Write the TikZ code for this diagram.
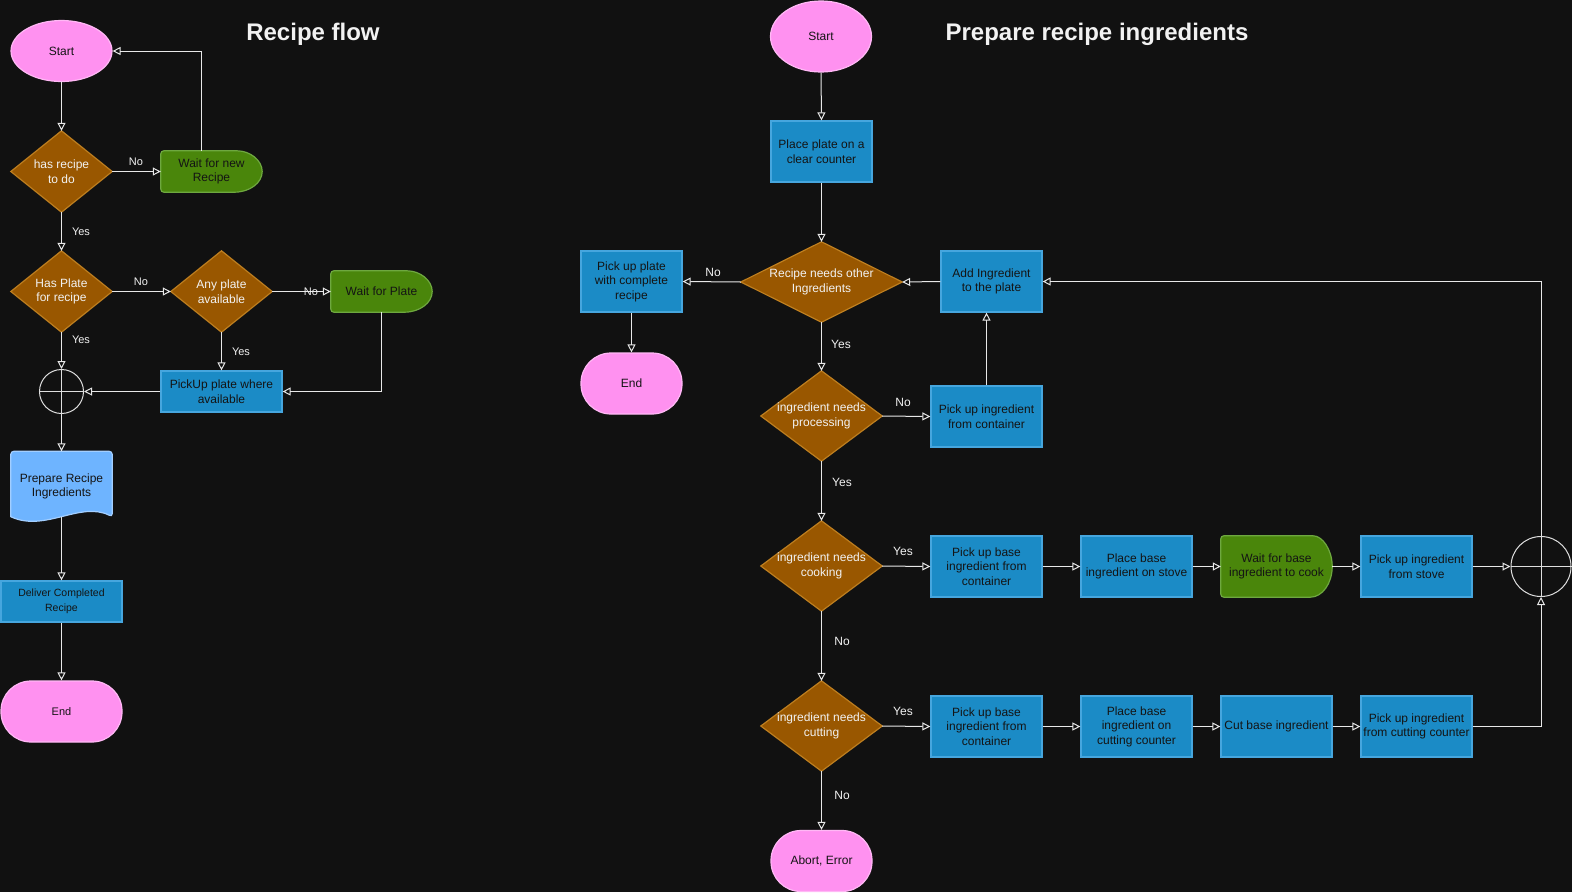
\documentclass[tikz,border=0pt]{standalone}
\usepackage{fontspec}
\setmainfont{Liberation Sans}
\usetikzlibrary{arrows.meta,shapes.geometric,calc}
\pgfdeclarelayer{back}
\pgfsetlayers{back,main}
\definecolor{bg}{HTML}{111111}
\definecolor{ln}{HTML}{E8E8E8}
\definecolor{txtlight}{HTML}{F2F2F2}
\definecolor{txtdark}{HTML}{141414}
\definecolor{procfill}{HTML}{1B8BC6}
\definecolor{procdraw}{HTML}{46A6DE}
\definecolor{decfill}{HTML}{995700}
\definecolor{decdraw}{HTML}{BD7E1F}
\definecolor{grfill}{HTML}{4A860B}
\definecolor{grdraw}{HTML}{6EA83F}
\definecolor{pkfill}{HTML}{FF91F0}
\definecolor{pkdraw}{HTML}{FFB8F5}
\definecolor{docfill}{HTML}{6EB4FF}
\definecolor{docdraw}{HTML}{A2CEFF}
\begin{document}
\begin{tikzpicture}[x=1pt,y=-1pt,
  base/.style={inner sep=0pt, align=center, font=\fontsize{12}{14.5}\selectfont},
  proc/.style={base, draw=procdraw, fill=procfill, line width=1.2pt, text=txtdark, minimum width=111pt, minimum height=61pt},
  decn/.style={base, text=txtlight, minimum width=121pt, minimum height=90pt},
  decshape/.style={draw=decdraw, fill=decfill, line width=1.2pt},
  grn/.style={base, text=txtdark, minimum width=101pt, minimum height=41pt},
  grnshape/.style={draw=grdraw, fill=grfill, line width=1.2pt},
  ell/.style={base, ellipse, draw=pkdraw, fill=pkfill, line width=1.2pt, text=txtdark, minimum width=101pt, minimum height=61pt},
  stad/.style={base, rectangle, rounded corners=30pt, draw=pkdraw, fill=pkfill, line width=1.2pt, text=txtdark, minimum width=101pt, minimum height=61pt},
  junc/.style={circle, draw=ln!90!gray, line width=1pt, inner sep=0pt},
  con/.style={draw=ln, line width=1pt, -{Triangle[open,length=8pt,width=8pt]}},
  lbl/.style={inner sep=0pt, text=txtlight, font=\fontsize{12}{14}\selectfont},
  lbls/.style={inner sep=0pt, text=txtlight, font=\fontsize{11}{13}\selectfont},
  title/.style={inner sep=0pt, text=txtlight, font=\bfseries\fontsize{24}{28}\selectfont}
]
\begin{pgfonlayer}{back}
\fill[bg] (0,0) rectangle (1572,892);
\end{pgfonlayer}
\useasboundingbox (0,0) rectangle (1572,892);

% ---------------- Left: Recipe flow ----------------
\node[title] (t1) at (313,34) {Recipe flow};
\node[ell] (s1) at (61.5,51) {Start};
\node[decn, minimum width=101pt, minimum height=81pt] (d1) at (61.5,171.5) {has recipe\\to do};
\node[grn] (w1) at (211.5,171.5) {Wait for new\\Recipe};
\node[decn, minimum width=101pt, minimum height=81pt] (d2) at (61.5,291.5) {Has Plate\\for recipe};
\node[decn, minimum width=101pt, minimum height=81pt] (d3) at (221.5,291.5) {Any plate\\available};
\node[grn] (w2) at (381.5,291.5) {Wait for Plate};
\node[proc, minimum width=121pt, minimum height=41pt] (p1) at (221.5,391.5) {PickUp plate where\\available};
\node[junc, minimum size=44pt] (j1) at (61.5,391.5) {};
\node[base, text=txtdark, minimum width=101pt, minimum height=65pt] (doc) at (61.5,484) {};
\node[base, text=txtdark] (doct) at (61.5,486.5) {Prepare Recipe\\Ingredients};
\node[proc, minimum width=121pt, minimum height=41pt, font=\fontsize{10.5}{14.5}\selectfont] (dl) at (61.5,601.5) {Deliver Completed\\Recipe};
\node[stad, minimum width=121pt, font=\fontsize{11}{13}\selectfont] (e1) at (61.5,711.5) {End};

% ---------------- Right: Prepare recipe ingredients ----------------
\node[title] (t2) at (1097,34) {Prepare recipe ingredients};
\node[ell, minimum height=71pt] (s2) at (821,36.5) {Start};
\node[proc, minimum width=101pt] (pp) at (821.5,151.5) {Place plate on a\\clear counter};
\node[decn, minimum width=161pt, minimum height=80pt] (r1) at (821.5,282) {Recipe needs other\\Ingredients};
\node[proc, minimum width=101pt] (ai) at (991.5,281.5) {Add Ingredient\\to the plate};
\node[proc, minimum width=101pt] (pc) at (631.5,281.5) {Pick up plate\\with complete\\recipe};
\node[stad] (e2) at (631.5,383.5) {End};
\node[decn] (r2) at (821.5,416) {ingredient needs\\processing};
\node[proc] (pi) at (986.5,416.5) {Pick up ingredient\\from container};
\node[decn] (r3) at (821.5,566) {ingredient needs\\cooking};
\node[proc] (a1) at (986.5,566.5) {Pick up base\\ingredient from\\container};
\node[proc] (a2) at (1136.5,566.5) {Place base\\ingredient on stove};
\node[grn, minimum width=111pt, minimum height=61pt] (w3) at (1276.5,566.5) {Wait for base\\ingredient to cook};
\node[proc] (a4) at (1416.5,566.5) {Pick up ingredient\\from stove};
\node[junc, minimum size=60pt] (j2) at (1541,566.5) {};
\node[decn] (r4) at (821.5,726) {ingredient needs\\cutting};
\node[proc] (b1) at (986.5,726.5) {Pick up base\\ingredient from\\container};
\node[proc] (b2) at (1136.5,726.5) {Place base\\ingredient on\\cutting counter};
\node[proc] (b3) at (1276.5,726.5) {Cut base ingredient};
\node[proc] (b4) at (1416.5,726.5) {Pick up ingredient\\from cutting counter};
\node[stad] (ab) at (821.5,861) {Abort, Error};

% ---------------- custom shapes (behind text) ----------------
\begin{pgfonlayer}{back}
\foreach \n in {d1,d2,d3,r1,r2,r3,r4}{
  \draw[decshape] (\n.north) -- (\n.east) -- (\n.south) -- (\n.west) -- cycle;
}
\foreach \n/\r in {w1/28,w2/28,w3/22}{
  \coordinate (\n-t) at ($(\n.north east)+(-\r,0)$);
  \coordinate (\n-b) at ($(\n.south east)+(-\r,0)$);
  \draw[grnshape, rounded corners=3pt] (\n-b) -- (\n.south west) -- (\n.north west) -- (\n-t) [sharp corners]
    .. controls ($(\n-t)!0.552!(\n.north east)$) and ($(\n.east)!0.552!(\n.north east)$) .. (\n.east)
    .. controls ($(\n.east)!0.552!(\n.south east)$) and ($(\n-b)!0.552!(\n.south east)$) .. (\n-b) -- cycle;
}
\draw[draw=docdraw, fill=docfill, line width=1.2pt, rounded corners=3pt]
  (doc.south west) -- (doc.north west) -- (doc.north east) -- (doc.south east) [sharp corners]
  .. controls ($(doc.south east)+(-32,-16)$) and ($(doc.south west)+(34,16)$) .. (doc.south west) -- cycle;
\end{pgfonlayer}

% junction crosses
\draw[draw=ln!90!gray, line width=1pt] (j1.north) -- (j1.south) (j1.west) -- (j1.east);
\draw[draw=ln!90!gray, line width=1pt] (j2.north) -- (j2.south) (j2.west) -- (j2.east);

% ---------------- connectors left ----------------
\draw[con] (s1.south) -- (d1.north);
\draw[con] (d1.east) -- (w1.west);
\draw[con] ([xshift=-10pt]w1.north) |- (s1.east);
\draw[con] (d1.south) -- (d2.north);
\draw[con] (d2.east) -- (d3.west);
\draw[con] (d3.east) -- (w2.west);
\draw[con] (d3.south) -- (p1.north);
\draw[con] (w2.south) |- (p1.east);
\draw[con] (p1.west) -- (j1.east);
\draw[con] (d2.south) -- (j1.north);
\draw[con] (j1.south) -- (doc.north);
\draw[con] (doc.south) -- (dl.north);
\draw[con] (dl.south) -- (e1.north);

\node[lbls] (ln1) at (136,162) {No};
\node[lbls] (ly1) at (81,232) {Yes};
\node[lbls] (ln2) at (141,282) {No};
\node[lbls] (ln3) at (311,292) {No};
\node[lbls] (ly2) at (81,340) {Yes};
\node[lbls] (ly3) at (241,352) {Yes};

% ---------------- connectors right ----------------
\draw[con] (s2.south) -- (pp.north);
\draw[con] (pp.south) -- (r1.north);
\draw[con] (r1.west) -- (pc.east);
\draw[con] (pc.south) -- (e2.north);
\draw[con] (ai.west) -- (r1.east);
\draw[con] (r1.south) -- (r2.north);
\draw[con] (r2.east) -- (pi.west);
\draw[con] (pi.north) -- (pi.north |- ai.south);
\draw[con] (r2.south) -- (r3.north);
\draw[con] (r3.east) -- (a1.west);
\draw[con] (a1.east) -- (a2.west);
\draw[con] (a2.east) -- (w3.west);
\draw[con] (w3.east) -- (a4.west);
\draw[con] (a4.east) -- (j2.west);
\draw[con] (r3.south) -- (r4.north);
\draw[con] (r4.east) -- (b1.west);
\draw[con] (b1.east) -- (b2.west);
\draw[con] (b2.east) -- (b3.west);
\draw[con] (b3.east) -- (b4.west);
\draw[con] (b4.east) -| (j2.south);
\draw[con] (j2.north) |- (ai.east);
\draw[con] (r4.south) -- (ab.north);

\node[lbl] (rn1) at (713,272) {No};
\node[lbl] (ry1) at (841,344) {Yes};
\node[lbl] (rn2) at (903,402) {No};
\node[lbl] (ry2) at (842,482) {Yes};
\node[lbl] (ry3) at (903,551) {Yes};
\node[lbl] (rn3) at (842,641) {No};
\node[lbl] (ry4) at (903,711) {Yes};
\node[lbl] (rn4) at (842,795) {No};
\end{tikzpicture}
\end{document}
